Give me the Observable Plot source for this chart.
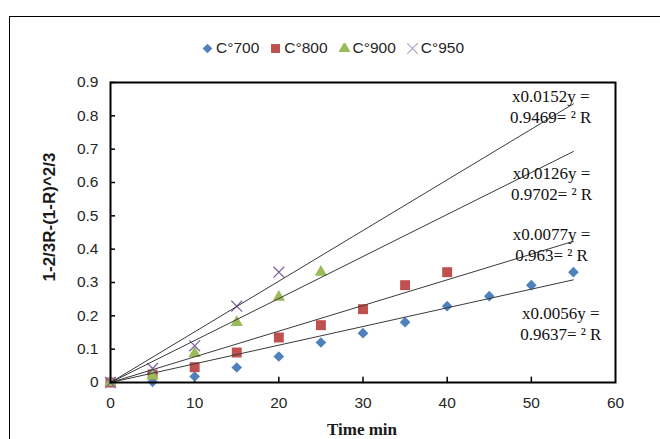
<!DOCTYPE html>
<html>
<head>
<meta charset="utf-8">
<script src="https://cdn.jsdelivr.net/npm/d3@7"></script>
<script src="https://cdn.jsdelivr.net/npm/@observablehq/plot@0.6"></script>
<style>
html, body { margin: 0; padding: 0; background: #fff; }
#wrap { position: relative; width: 660px; height: 439px; overflow: hidden; font-family: "Liberation Sans", Arial, sans-serif; }
#chart { position: absolute; left: 0; top: 0; }
#border { position: absolute; left: 9px; top: 16px; width: 800px; height: 600px; border: 1.5px solid #000; box-sizing: border-box; pointer-events: none; }
#legend { position: absolute; left: 202px; top: 39px; display: flex; align-items: center; font-size: 15.5px; color: #262626; white-space: nowrap; }
#legend .item { display: flex; align-items: center; margin-right: 11px; }
#legend svg { margin-right: 3px; }
#ytitle { position: absolute; left: 50px; top: 217px; transform: translate(-50%, -50%) rotate(-90deg); font: bold 17px "Liberation Sans", Arial, sans-serif; color: #1a1a1a; white-space: nowrap; }
#xtitle { position: absolute; left: 362px; top: 420px; transform: translateX(-50%); font: bold 17px "Liberation Serif", "Times New Roman", serif; color: #1a1a1a; white-space: nowrap; }
</style>
</head>
<body>
<div id="wrap">
  <div id="chart"></div>
  <div id="border"></div>
  <div id="legend"></div>
  <div id="ytitle">1-2/3R-(1-R)^2/3</div>
  <div id="xtitle">Time min</div>
</div>
<script>
// ---- data ----
const seriesNames = ["C°700", "C°800", "C°900", "C°950"];
const colors = ["#4F81BD", "#C0504D", "#9BBB59", "#8064A2"];

const time700 = [0, 5, 10, 15, 20, 25, 30, 35, 40, 45, 50, 55];
const val700  = [0, 0.002, 0.018, 0.045, 0.078, 0.12, 0.148, 0.181, 0.229, 0.259, 0.292, 0.331];

const time800 = [0, 5, 10, 15, 20, 25, 30, 35, 40];
const val800  = [0, 0.024, 0.046, 0.09, 0.135, 0.172, 0.22, 0.292, 0.331];

const time900 = [0, 5, 10, 15, 20, 25];
const val900  = [0, 0.02, 0.087, 0.18, 0.256, 0.331];

const time950 = [0, 5, 10, 15, 20];
const val950  = [0, 0.042, 0.11, 0.229, 0.331];

// trendlines y = slope * x (through origin), drawn over 0..55
const slopes = [0.0056, 0.0077, 0.0126, 0.0152];
const r2Text = ["0.9637", "0.963", "0.9702", "0.9469"];
const trendStart = 0, trendEnd = 55;

const xTicks = [0, 10, 20, 30, 40, 50, 60];
const yTicks = [0, 0.1, 0.2, 0.3, 0.4, 0.5, 0.6, 0.7, 0.8, 0.9];

// ---- build tables ----
const times = [time700, time800, time900, time950];
const vals = [val700, val800, val900, val950];
const series = seriesNames.map((name, i) => times[i].map((t, j) => ({t, v: vals[i][j], s: name})));
const trend = seriesNames.flatMap((name, i) => [trendStart, trendEnd].map(t => ({t, v: slopes[i] * t, s: name})));

// equation label anchors (data units)
const eqPos = [[53.5, 0.18], [52.4, 0.417], [52.4, 0.599], [52.3, 0.831]];
const eqLabels = seriesNames.map((name, i) => ({
  x: eqPos[i][0], y: eqPos[i][1],
  text: `x${slopes[i]}y =\n${r2Text[i]}= ² R`
}));

const symbols = ["diamond2", "square", "triangle", "times"];
const radii = [4.8, 5.6, 4.6, 5.0];

const dotMarks = series.map((data, i) => symbols[i] === "times"
  ? Plot.dot(data, {x: "t", y: "v", symbol: "times", stroke: colors[i], fill: "none", strokeWidth: 1.3, r: radii[i]})
  : Plot.dot(data, {x: "t", y: "v", symbol: symbols[i], fill: colors[i], stroke: "none", r: radii[i]}));

const chart = Plot.plot({
  width: 660,
  height: 439,
  marginLeft: 110,
  marginRight: 45,
  marginTop: 82,
  marginBottom: 57,
  style: {background: "transparent", fontFamily: "Liberation Sans, Arial, sans-serif", fontSize: "15.5px", color: "#262626", overflow: "visible"},
  x: {domain: [0, 60], label: null},
  y: {domain: [0, 0.9], label: null},
  marks: [
    Plot.ruleY(yTicks, {x1: 0, x2: 0.6, stroke: "#000", strokeWidth: 1.5}),
    Plot.ruleX(xTicks.slice(1, -1), {y1: 0, y2: 0.016, stroke: "#000", strokeWidth: 1.5}),
    Plot.axisX(xTicks, {tickSize: 0, tickPadding: 14, tickFormat: d => String(d)}),
    Plot.axisY(yTicks, {tickSize: 0, tickPadding: 12, tickFormat: d => d === 0 ? "0" : d3.format(".1f")(d)}),
    ...dotMarks,
    Plot.line(trend, {x: "t", y: "v", z: "s", stroke: "#3a3a3a", strokeWidth: 1}),
    Plot.text(eqLabels, {x: "x", y: "y", text: "text", textAnchor: "middle", lineAnchor: "middle", lineHeight: 1.25, fontFamily: "Liberation Serif, Times New Roman, serif", fontSize: 17, fill: "#111"}),
    Plot.frame({stroke: "#000", strokeWidth: 2})
  ]
});
document.getElementById("chart").appendChild(chart);

// ---- legend ----
const legend = d3.select("#legend");
const legendSize = [60, 80, 62, 80];
seriesNames.forEach((name, i) => {
  const item = legend.append("div").attr("class", "item");
  const svg = item.append("svg").attr("width", 11).attr("height", 11);
  const typ = [d3.symbolDiamond2, d3.symbolSquare, d3.symbolTriangle, d3.symbolTimes][i];
  const p = svg.append("path")
    .attr("transform", "translate(5.5,5.5)")
    .attr("d", d3.symbol(typ, legendSize[i])());
  if (i === 3) p.attr("fill", "none").attr("stroke", "#B3A2C7").attr("stroke-width", 1.2);
  else p.attr("fill", colors[i]);
  item.append("span").text(name);
});
</script>
</body>
</html>
